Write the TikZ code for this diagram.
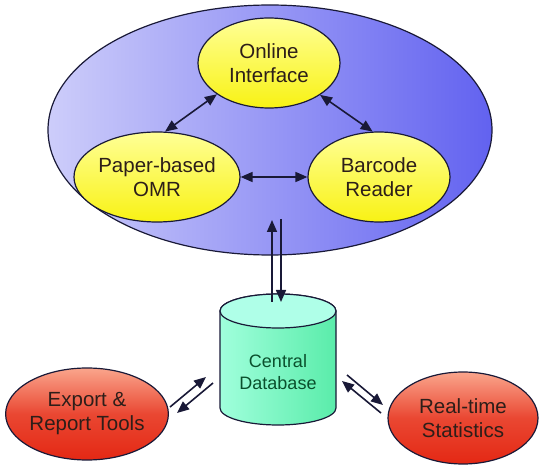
\documentclass[tikz,border=0pt]{standalone}
\usepackage{fontspec}
\setmainfont{Liberation Sans}
\usetikzlibrary{arrows.meta,shapes.geometric,calc}
\definecolor{bigL}{RGB}{205,205,250}
\definecolor{bigD}{RGB}{98,98,240}
\definecolor{navy}{RGB}{25,25,55}
\definecolor{yelL}{RGB}{255,255,150}
\definecolor{yelD}{RGB}{248,242,20}
\definecolor{redL}{RGB}{250,165,140}
\definecolor{redD}{RGB}{228,40,20}
\definecolor{grnB}{RGB}{90,236,170}
\definecolor{grnL}{RGB}{160,255,220}
\definecolor{grnT}{RGB}{175,255,232}
\definecolor{txt}{RGB}{45,30,25}
\definecolor{gtxt}{RGB}{10,80,45}
\tikzset{
  lbl/.style={align=center,text=txt,font=\fontsize{20.5}{24}\selectfont},
  yel/.style={ellipse,draw=navy,line width=1.2pt,top color=yelL,bottom color=yelD,
     minimum width=142pt,minimum height=90pt,inner sep=0pt,lbl},
  redell/.style={ellipse,draw=navy,line width=1.2pt,top color=redL,bottom color=redD,
     middle color=redD!75!redL,minimum width=150pt,minimum height=92pt,inner sep=0pt,lbl},
  arr/.style={draw=navy,line width=1.6pt,-{Triangle[length=12pt,width=10pt]}},
  darr/.style={draw=navy,line width=1.6pt,{Triangle[length=12pt,width=10pt]}-{Triangle[length=12pt,width=10pt]}}
}
\begin{document}
\begin{tikzpicture}[x=1pt,y=1pt]
\useasboundingbox (0,0) rectangle (539,-468);
% big ellipse
\node[ellipse,draw=navy,line width=1.2pt,left color=bigL,right color=bigD,
  minimum width=444pt,minimum height=250pt] (big) at (270,-130) {};
% inner nodes
\node[yel] (oi) at (269,-63) {Online\\Interface};
\node[yel] (pb) at (157,-177) {Paper-based\\OMR};
\node[yel] (br) at (379,-177) {Barcode\\Reader};
\draw[darr] (oi.211) -- (pb.80);
\draw[darr] (oi.328) -- (br.98);
\draw[darr] (pb.east) -- (br.west);
% cylinder
\path[draw=navy,line width=1.2pt,left color=grnL,right color=grnB]
  (220,-311) -- (220,-408) arc[start angle=180,end angle=360,x radius=58,y radius=17]
  -- (336,-311) arc[start angle=0,end angle=180,x radius=58,y radius=17] -- cycle;
\draw[navy,line width=1.2pt,fill=grnT] (278,-311) ellipse[x radius=58,y radius=17];
\node[align=center,text=gtxt,font=\fontsize{18}{22}\selectfont] (db) at (278,-372) {Central\\Database};
% outer nodes
\node[redell] (ex) at (87,-414) {Export \&\\Report Tools};
\node[redell] (rt) at (463,-418) {Real-time\\Statistics};
% connector coordinates
\coordinate (dbL) at (272,-302);
\coordinate (upL) at (272,-220);
\coordinate (upR) at (281,-219);
\coordinate (dbR) at (281,-302);
\coordinate (exA) at (170,-407);
\coordinate (dbA) at (206,-377);
\coordinate (dbB) at (213,-383);
\coordinate (exB) at (177,-413);
\coordinate (rtC) at (381,-413);
\coordinate (dbC) at (342,-381);
\coordinate (dbD) at (347,-375);
\coordinate (rtD) at (383,-405);
\draw[arr] (dbL) -- (upL);
\draw[arr] (upR) -- (dbR);
\draw[arr] (exA) -- (dbA);
\draw[arr] (dbB) -- (exB);
\draw[arr] (rtC) -- (dbC);
\draw[arr] (dbD) -- (rtD);
\end{tikzpicture}
\end{document}
